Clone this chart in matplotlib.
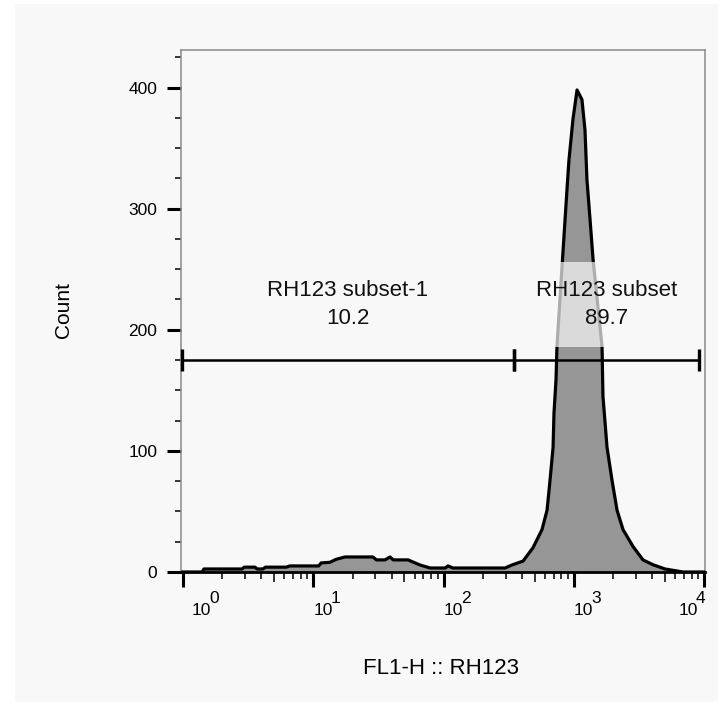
import matplotlib
matplotlib.use("Agg")
import matplotlib.pyplot as plt
from matplotlib.patches import Rectangle
from matplotlib.ticker import FixedLocator, NullFormatter

plt.rcParams['font.family'] = ['Liberation Sans', 'DejaVu Sans']

# Histogram of FL1-H (RH123) fluorescence: intensity vs. event count
fluorescence = [1.0, 1.40, 1.45, 2.84, 2.95, 3.57, 3.70, 4.10, 4.30, 6.20, 6.60,
                11.0, 11.5, 13.4, 15.0, 17.5, 28.7, 30.5, 35.5, 38.8, 41.0, 53.3,
                65.9, 78.7, 103, 108, 118, 296, 335, 407, 485, 569, 622, 656, 692,
                703, 729, 741, 824, 885, 916, 984, 1057, 1153, 1216, 1259, 1330,
                1403, 1644, 1671, 1795, 1959, 2143, 2382, 2844, 3388, 4046, 5000,
                6871, 10000]
counts = [0, 0, 2.5, 2.5, 4, 4, 2.5, 2.5, 4, 4, 5,
          5, 7.5, 8, 10.5, 12.4, 12.4, 10, 10, 12.4, 10, 10,
          5.8, 3.3, 3.3, 5, 3.3, 3.3, 5.8, 9, 20, 35, 51, 76, 103,
          131, 159, 186, 264, 316, 340, 374, 398, 390, 365, 324, 291,
          258, 186, 145, 103, 76, 51, 35, 21, 10, 6, 2.5,
          0, 0]

# Range gates
gate_names = ["RH123 subset-1", "RH123 subset"]
gate_ranges = [(0.98, 347), (347, 9120)]
gate_percent = [10.2, 89.7]
gate_level = 175

y_ticks = [0, 100, 200, 300, 400]
y_minor = [25, 50, 75, 125, 150, 175, 225, 250, 275, 325, 350, 375, 425]
decades = [0, 1, 2, 3, 4]

BG = '#f8f8f8'
W, H = 722, 706
fig = plt.figure(figsize=(W / 100, H / 100), dpi=100, facecolor='white')
fig.patches.append(Rectangle((15 / W, 4 / H), (W - 19) / W, (H - 8) / H,
                             transform=fig.transFigure, facecolor=BG,
                             edgecolor='none', zorder=-10))

ax = fig.add_axes([181 / W, (H - 572) / H, (705 - 181) / W, (572 - 50) / H])
ax.set_facecolor(BG)
ax.set_xscale('log')
ax.set_xlim(10 ** -0.0153, 10 ** 4.006)
ax.set_ylim(0, 431)

ax.fill_between(fluorescence, counts, 0, color='#969696', linewidth=0, zorder=2)
ax.plot(fluorescence, counts, color='black', linewidth=2.3, zorder=3,
        solid_joinstyle='round')

# Gates with end caps
for (lo, hi) in gate_ranges:
    ax.plot([lo, hi], [gate_level, gate_level], color='black', linewidth=1.8,
            marker='|', markersize=16, markeredgewidth=2.4, zorder=5,
            clip_on=False)

for name, (lo, hi), pct in zip(gate_names, gate_ranges, gate_percent):
    xc = (lo * hi) ** 0.5
    ax.text(xc, gate_level + 46, f"{name}\n{pct}", ha='center', va='center',
            fontsize=16, linespacing=1.45, color='#111111', zorder=6,
            bbox=dict(boxstyle='square,pad=0.8', facecolor=BG, edgecolor='none',
                      alpha=0.7))

# Spines
for side in ('left', 'top', 'right'):
    ax.spines[side].set_color('#8a8a8a')
    ax.spines[side].set_linewidth(1.1)
ax.spines['bottom'].set_color('black')
ax.spines['bottom'].set_linewidth(2.0)

# Y axis ticks
ax.yaxis.set_major_locator(FixedLocator(y_ticks))
ax.yaxis.set_minor_locator(FixedLocator(y_minor))
ax.tick_params(axis='y', which='major', direction='out', length=10, width=2.2,
               labelsize=12.5, pad=7)
ax.tick_params(axis='y', which='minor', direction='out', length=4.5, width=1.1)

# X axis ticks: decades, fives and other minors
ax.xaxis.set_major_locator(FixedLocator([10 ** d for d in decades]))
minor_pos = [m * 10 ** d for d in decades[:-1] for m in (2, 3, 4, 6, 7, 8, 9)]
ax.xaxis.set_minor_locator(FixedLocator(minor_pos))
ax.xaxis.set_major_formatter(NullFormatter())
ax.xaxis.set_minor_formatter(NullFormatter())
ax.tick_params(axis='x', which='major', direction='out', length=11, width=2.2)
ax.tick_params(axis='x', which='minor', direction='out', length=5, width=1.1)

sec = ax.secondary_xaxis('bottom')
sec.set_xscale('log')
sec.xaxis.set_major_locator(FixedLocator([5 * 10 ** d for d in decades[:-1]]))
sec.xaxis.set_minor_locator(FixedLocator([]))
sec.xaxis.set_major_formatter(NullFormatter())
sec.tick_params(axis='x', which='major', direction='out', length=7.5, width=1.1)
sec.spines['bottom'].set_visible(False)

# Decade labels 10^k with full-size exponent
label_shift_px = [9, 0, 0, 0, -26]
for d, shift in zip(decades, label_shift_px):
    ax.annotate("10", xy=(10 ** d, 0), xycoords=('data', 'axes fraction'),
                xytext=(shift * 0.72, -46 * 0.72), textcoords='offset points',
                ha='left', va='bottom', fontsize=12.5)
    ax.annotate(str(d), xy=(10 ** d, 0), xycoords=('data', 'axes fraction'),
                xytext=((shift + 17.5) * 0.72, -34 * 0.72),
                textcoords='offset points', ha='left', va='bottom', fontsize=12.5)

fig.text(63 / W, 1 - 310 / H, "Count", rotation=90, ha='center', va='center',
         fontsize=15)
fig.text(441 / W, 1 - 668 / H, "FL1-H :: RH123", ha='center', va='center',
         fontsize=16)

fig.savefig("out.png", dpi=100, facecolor=fig.get_facecolor())
